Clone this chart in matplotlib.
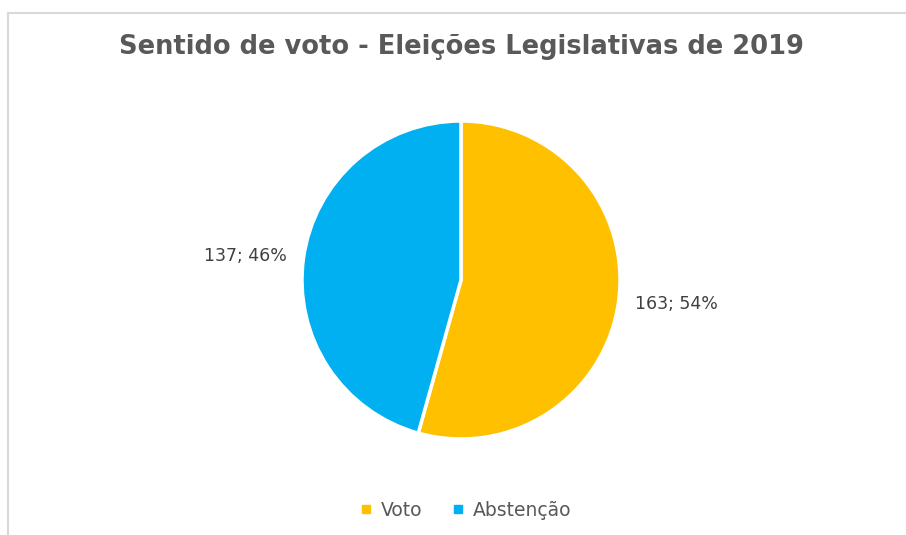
import matplotlib
matplotlib.use('Agg')
import matplotlib.pyplot as plt
from matplotlib.lines import Line2D

# dados
categorias = ['Voto', 'Abstenção']
valores = [163, 137]
cores = ['#FFC000', '#00B0F0']
titulo = 'Sentido de voto - Eleições Legislativas de 2019'

total = sum(valores)
rotulos = [f'{v}; {round(100 * v / total)}%' for v in valores]

fig = plt.figure(figsize=(9.06, 5.35), dpi=100)
W, H = 906, 535

# moldura (linha cinzenta em cima e à esquerda)
fig.add_artist(Line2D([8 / W, 1], [1 - 13 / H, 1 - 13 / H], color='#d9d9d9', lw=1.5))
fig.add_artist(Line2D([8 / W, 8 / W], [0, 1 - 13 / H], color='#d9d9d9', lw=1.5))

cx, cy, r = 461, 280, 159
ax = fig.add_axes([(cx - r) / W, (H - cy - r) / H, 2 * r / W, 2 * r / H])
wedges, texts = ax.pie(valores, colors=cores, labels=rotulos, startangle=90,
                       counterclock=False, labeldistance=1.37,
                       wedgeprops=dict(edgecolor='white', linewidth=2.5),
                       textprops=dict(color='#404040', fontsize=12.5))
for t in texts:
    t.set_horizontalalignment('center')
    x, y = t.get_position()
    t.set_position((x, y * 0.8))
ax.set_xlim(-1, 1)
ax.set_ylim(-1, 1)
ax.set_aspect('equal')

fig.text(cx / W, 1 - 47 / H, titulo, ha='center', va='center',
         fontsize=18.5, fontweight='bold', color='#595959')

handles = [Line2D([0], [0], marker='s', color='w', markerfacecolor=c,
                  markeredgecolor=c, markersize=6, label=l)
           for c, l in zip(cores, categorias)]
leg = fig.legend(handles=handles, loc='center', bbox_to_anchor=(466 / W, 1 - 510 / H),
                 ncol=2, frameon=False, fontsize=13.5, handlelength=0.6,
                 handletextpad=0.5, columnspacing=1.6)
for t in leg.get_texts():
    t.set_color('#595959')

plt.savefig('out.png', dpi=100)
